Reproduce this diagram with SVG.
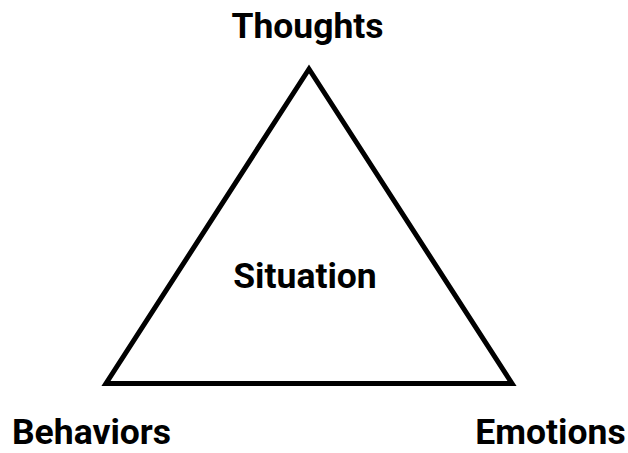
<svg xmlns="http://www.w3.org/2000/svg" width="628" height="453" viewBox="0 0 628 453">
<style>
.lbl{font-family:Roboto,"Liberation Sans",sans-serif;font-weight:bold;font-size:35.5px;fill:#000;text-anchor:middle}
.edge{fill:none;stroke:#000;stroke-width:5;stroke-linejoin:miter}
</style>
<rect width="628" height="453" fill="#fff"/>
<g id="connectors">
<polygon class="edge" points="309,69 106,383.5 512,383.5"/>
</g>
<g id="thoughts"><text class="lbl" x="307.5" y="38">Thoughts</text></g>
<g id="situation"><text class="lbl" x="305" y="288">Situation</text></g>
<g id="behaviors"><text class="lbl" x="91.5" y="444">Behaviors</text></g>
<g id="emotions"><text class="lbl" x="550.5" y="444">Emotions</text></g>
</svg>
